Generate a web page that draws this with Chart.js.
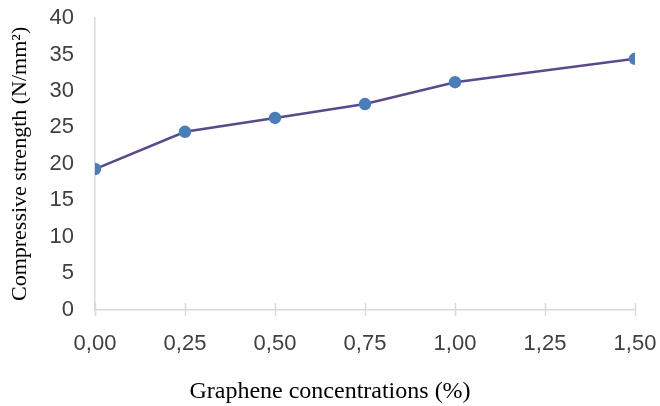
<!DOCTYPE html>
<html>
<head>
<meta charset="utf-8">
<script src="https://cdn.jsdelivr.net/npm/chart.js@4/dist/chart.umd.min.js"></script>
<style>
  html, body { margin: 0; padding: 0; background: #fff; }
  #wrap { width: 660px; height: 406px; }
</style>
</head>
<body>
<div id="wrap"><canvas id="StrengthChart"></canvas></div>
<script>
// graphene content (%) and compressive strength (N/mm2)
var concentrations = [0, 0.25, 0.5, 0.75, 1.0, 1.5];
var strength = [19.3, 24.4, 26.3, 28.2, 31.2, 34.4];
var xTicks = [0, 0.25, 0.5, 0.75, 1.0, 1.25, 1.5];
var yTicks = [0, 5, 10, 15, 20, 25, 30, 35, 40];

var points = concentrations.map(function(c, i) {
	return { x: c, y: strength[i] };
});

// excel style tick marks crossing the x axis
var crossTicks = {
	id: 'crossTicks',
	afterDraw: function(chart) {
		var ctx = chart.ctx;
		var xs = chart.scales.x;
		var y0 = chart.chartArea.bottom;
		ctx.save();
		ctx.strokeStyle = '#d9d9d9';
		ctx.lineWidth = 1.5;
		xTicks.forEach(function(v) {
			var px = Math.round(xs.getPixelForValue(v)) + 0.5;
			ctx.beginPath();
			ctx.moveTo(px, y0 - 7);
			ctx.lineTo(px, y0 + 6);
			ctx.stroke();
		});
		ctx.restore();
	}
};

var ctx = document.getElementById('StrengthChart').getContext('2d');
var config = {
	type: 'line',
	data: {
		datasets: [{
			label: 'Compressive strength',
			data: points,
			borderColor: '#5b4a8b',
			borderWidth: 2.5,
			backgroundColor: '#4a7ebb',
			pointBackgroundColor: '#4a7ebb',
			pointBorderColor: '#4a7ebb',
			pointRadius: 5,
			tension: 0
		}]
	},
	options: {
		responsive: true,
		maintainAspectRatio: false,
		animation: false,
		layout: { padding: { top: 18, right: 0, left: 0, bottom: 0 } },
		plugins: {
			legend: { display: false },
			tooltip: { enabled: false },
			// x axis title sits centred on the whole figure, not on the axis
			title: {
				display: true,
				position: 'bottom',
				text: 'Graphene concentrations (%)',
				color: '#000',
				font: { family: 'Liberation Serif', size: 24, weight: 'normal' },
				padding: { top: 7, bottom: 0 }
			}
		},
		scales: {
			x: {
				type: 'linear',
				min: 0,
				max: 1.5,
				afterBuildTicks: function(axis) {
					axis.ticks = xTicks.map(function(v) { return { value: v }; });
				},
				afterFit: function(scale) {
					scale.paddingLeft = 0;
					scale.paddingRight = 25;
				},
				grid: { display: false },
				border: { color: '#d9d9d9', width: 1.5 },
				ticks: {
					padding: 13,
					color: '#404040',
					font: { family: 'Liberation Sans', size: 22 },
					callback: function(v) { return v.toFixed(2).replace('.', ','); }
				}
			},
			y: {
				min: 0,
				max: 40,
				afterBuildTicks: function(axis) {
					axis.ticks = yTicks.map(function(v) { return { value: v }; });
				},
				afterFit: function(scale) {
					scale.width = 95;
					scale.paddingTop = 0;
					scale.paddingBottom = 0;
				},
				grid: { display: false },
				border: { color: '#d9d9d9', width: 1.5 },
				ticks: {
					padding: 13,
					color: '#404040',
					font: { family: 'Liberation Sans', size: 22 }
				},
				title: {
					display: true,
					text: 'Compressive strength (N/mm²)',
					color: '#000',
					font: { family: 'Liberation Serif', size: 22 },
					padding: { top: 7, bottom: 16 }
				}
			}
		}
	},
	plugins: [crossTicks]
};

var chart = new Chart(ctx, config);
</script>
</body>
</html>
